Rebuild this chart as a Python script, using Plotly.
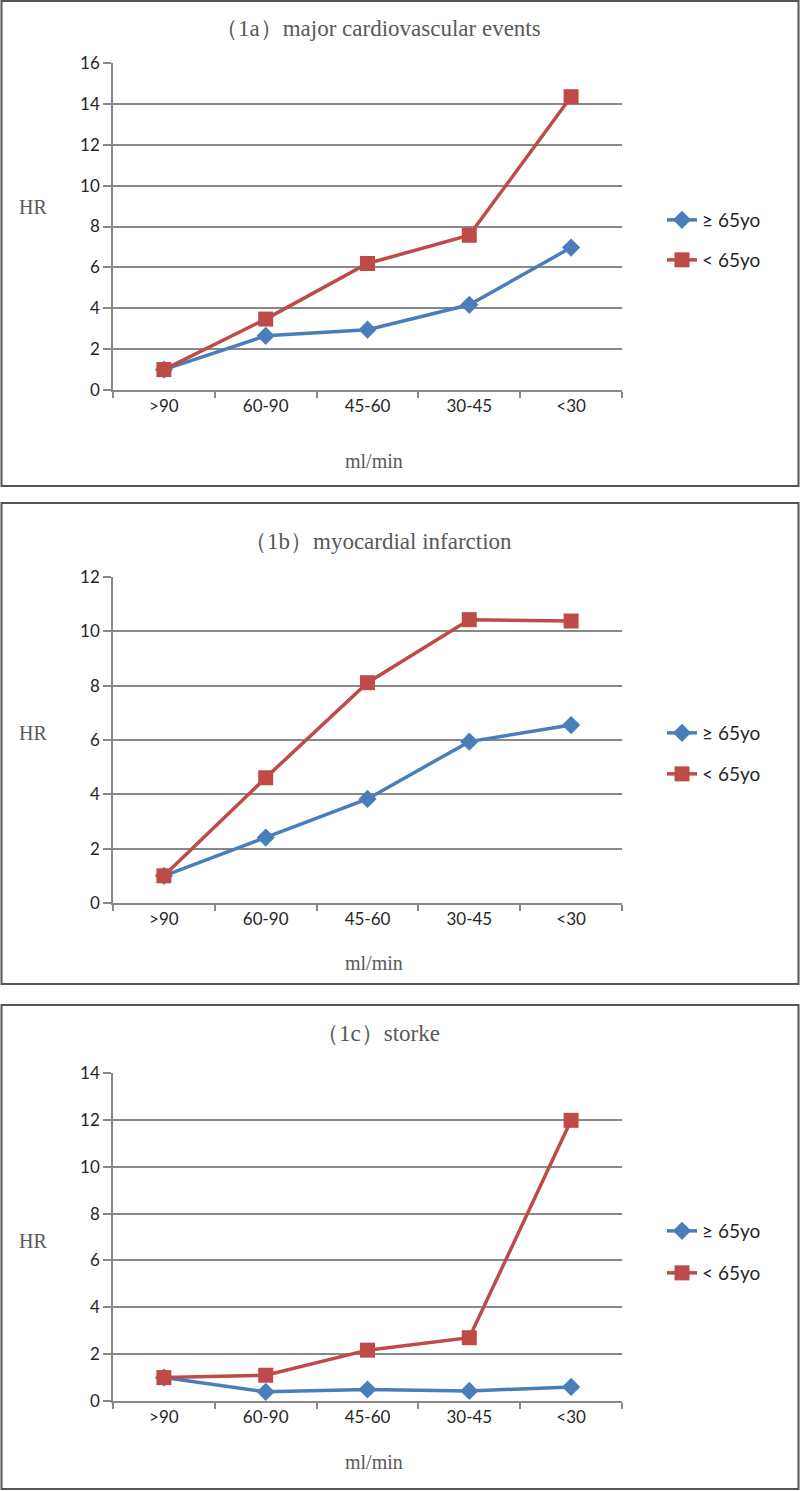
import plotly.graph_objects as go

W, H = 800, 1491

categories = [">90", "60-90", "45-60", "30-45", "<30"]
series_names = ["≥ 65yo", "< 65yo"]

titles = ["（1a）major cardiovascular events", "（1b）myocardial infarction", "（1c）storke"]

hr_1a_old = [1.0, 2.65, 2.95, 4.17, 6.97]
hr_1a_young = [1.0, 3.47, 6.19, 7.57, 14.35]
hr_1b_old = [1.0, 2.41, 3.83, 5.94, 6.55]
hr_1b_young = [1.0, 4.61, 8.11, 10.43, 10.38]
hr_1c_old = [1.0, 0.39, 0.49, 0.43, 0.6]
hr_1c_young = [1.0, 1.1, 2.17, 2.7, 11.98]

y_max = [16, 12, 14]

BLUE = "#4A7EBB"
RED = "#BE4B48"
GRID = "#888888"


def py(y):
    return 1 - y / H


panels = [
    dict(top=63, bot=390, btop=1, bbot=486, ty=28, mly=461, hry=207, l1=220, l2=260),
    dict(top=577, bot=903, btop=503, bbot=984, ty=541, mly=963, hry=733, l1=733, l2=774),
    dict(top=1073, bot=1401, btop=1005, bbot=1489, ty=1033, mly=1462, hry=1241, l1=1231, l2=1273),
]

data = [(hr_1a_old, hr_1a_young), (hr_1b_old, hr_1b_young), (hr_1c_old, hr_1c_young)]

fig = go.Figure()
layout = dict(
    width=W, height=H, margin=dict(l=0, r=0, t=0, b=0, autoexpand=False),
    paper_bgcolor="white", plot_bgcolor="white", showlegend=True,
)
shapes = []
annotations = []
PX0, PX1 = 113, 622
TICKFONT = dict(family="Lato", size=17, color="#262626")

for i, (p, (old, young)) in enumerate(zip(panels, data)):
    sfx = "" if i == 0 else str(i + 1)
    xa, ya = "x" + sfx, "y" + sfx
    lg1 = "legend" if i == 0 else "legend%d" % (2 * i + 1)
    lg2 = "legend%d" % (2 * i + 2)
    fig.add_trace(go.Scatter(
        x=categories, y=old, name=series_names[0], xaxis=xa, yaxis=ya, legend=lg1,
        mode="lines+markers", line=dict(color=BLUE, width=3.5),
        marker=dict(symbol="diamond", size=14, color=BLUE)))
    fig.add_trace(go.Scatter(
        x=categories, y=young, name=series_names[1], xaxis=xa, yaxis=ya, legend=lg2,
        mode="lines+markers", line=dict(color=RED, width=3.5),
        marker=dict(symbol="square", size=15, color=RED)))
    layout["xaxis" + sfx] = dict(
        domain=[PX0 / W, PX1 / W], anchor=ya, type="category", range=[-0.5, 4.5],
        showline=True, linecolor=GRID, linewidth=1.5, ticks="outside", tickson="boundaries",
        ticklen=6, tickcolor=GRID, tickwidth=1.5, showgrid=False, automargin=False,
        tickfont=TICKFONT,
    )
    layout["yaxis" + sfx] = dict(
        domain=[py(p["bot"]), py(p["top"])], anchor=xa, range=[0, y_max[i]], dtick=2,
        showline=True, linecolor=GRID, linewidth=1.5, ticks="outside", ticklen=8,
        tickcolor=GRID, tickwidth=1.5, showgrid=True, gridcolor=GRID, gridwidth=1.5,
        zeroline=False, automargin=False, tickfont=TICKFONT,
    )
    for j, ly in enumerate([p["l1"], p["l2"]]):
        name = lg1 if j == 0 else lg2
        layout[name] = dict(
            x=662 / W, y=py(ly), xanchor="left", yanchor="middle",
            bgcolor="rgba(0,0,0,0)", font=dict(family="Lato", size=19, color="#262626"),
        )
    shapes.append(dict(type="rect", xref="paper", yref="paper",
                       x0=1.5 / W, x1=1 - 1.5 / W, y0=py(p["bbot"]), y1=py(p["btop"]),
                       line=dict(color="#555555", width=2)))
    annotations.append(dict(text=titles[i], x=378 / W, y=py(p["ty"]), xref="paper", yref="paper",
                            showarrow=False, xanchor="center", yanchor="middle",
                            font=dict(family="Liberation Serif", size=23, color="#595959")))
    annotations.append(dict(text="ml/min", x=374 / W, y=py(p["mly"]), xref="paper", yref="paper",
                            showarrow=False, xanchor="center", yanchor="middle",
                            font=dict(family="Liberation Serif", size=20, color="#595959")))
    annotations.append(dict(text="HR", x=33 / W, y=py(p["hry"]), xref="paper", yref="paper",
                            showarrow=False, xanchor="center", yanchor="middle",
                            font=dict(family="Liberation Serif", size=20, color="#595959")))

layout["shapes"] = shapes
layout["annotations"] = annotations
fig.update_layout(**layout)
fig.write_html("out.html", config={"displayModeBar": False},
               post_script="document.body.style.margin='0';")
